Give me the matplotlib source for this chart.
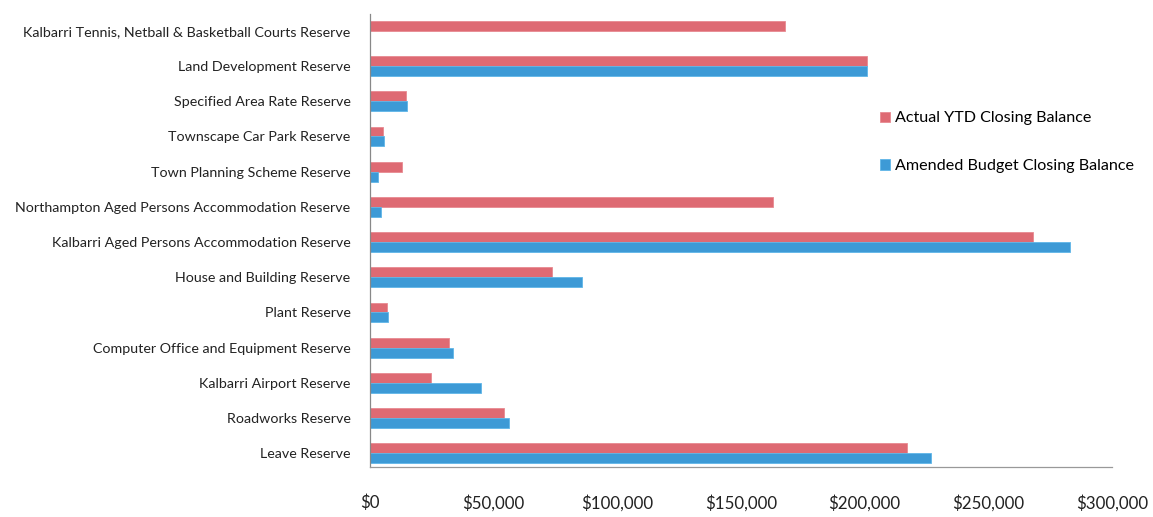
import matplotlib

matplotlib.use("Agg")

import matplotlib.pyplot as plt
import numpy as np
from matplotlib.ticker import FuncFormatter

plt.rcParams["font.family"] = ["Lato", "DejaVu Sans"]

# Reserve names, listed top to bottom
reserves = [
    "Kalbarri Tennis, Netball & Basketball Courts Reserve",
    "Land Development Reserve",
    "Specified Area Rate Reserve",
    "Townscape Car Park Reserve",
    "Town Planning Scheme Reserve",
    "Northampton Aged Persons Accommodation Reserve",
    "Kalbarri Aged Persons Accommodation Reserve",
    "House and Building Reserve",
    "Plant Reserve",
    "Computer Office and Equipment Reserve",
    "Kalbarri Airport Reserve",
    "Roadworks Reserve",
    "Leave Reserve",
]

# Closing balances in dollars
actual_ytd = [168000, 201000, 14500, 5300, 12800, 163000, 268000,
              73400, 6700, 32000, 24600, 54000, 217000]
amended_budget = [0, 201000, 15000, 5600, 3300, 4300, 283000,
                  85600, 7300, 33500, 45000, 56300, 227000]

series_labels = ["Actual YTD Closing Balance", "Amended Budget Closing Balance"]
x_ticks = [0, 50000, 100000, 150000, 200000, 250000, 300000]

RED = "#de6a73"
BLUE = "#3d9ad6"

fig = plt.figure(figsize=(11.53, 5.17), dpi=100)
ax = fig.add_axes([0.3209, 0.0967, 0.6435, 0.8763])

y = np.arange(len(reserves))
bar_h = 0.28
ax.barh(y - bar_h / 2, actual_ytd, height=bar_h, color=RED,
        edgecolor="#e88a91", linewidth=0.6, label=series_labels[0])
ax.barh(y + bar_h / 2, amended_budget, height=bar_h, color=BLUE,
        edgecolor="#5fb6e8", linewidth=0.6, label=series_labels[1])

ax.set_ylim(12.39, -0.48)
ax.set_xlim(0, 300000)
ax.set_yticks(y)
ax.set_yticklabels(reserves, fontsize=10.3, color="#222222")
ax.set_xticks(x_ticks)
ax.xaxis.set_major_formatter(FuncFormatter(lambda v, _: f"${v:,.0f}"))
ax.tick_params(axis="x", length=0, pad=20, labelsize=12.2, labelcolor="#222222")
ax.tick_params(axis="y", length=0, pad=14)

for side in ("top", "right"):
    ax.spines[side].set_visible(False)
ax.spines["left"].set_color("#888888")
ax.spines["bottom"].set_color("#999999")
ax.spines["left"].set_linewidth(0.9)
ax.spines["bottom"].set_linewidth(0.9)

ax.legend(
    loc="upper left",
    bbox_to_anchor=(874 / 1153, 1 - 105 / 517),
    bbox_transform=fig.transFigure,
    frameon=False,
    fontsize=11.6,
    handlelength=0.6,
    handleheight=0.6,
    handletextpad=0.3,
    labelspacing=2.1,
    borderaxespad=0,
)

fig.savefig("out.png", dpi=100)
